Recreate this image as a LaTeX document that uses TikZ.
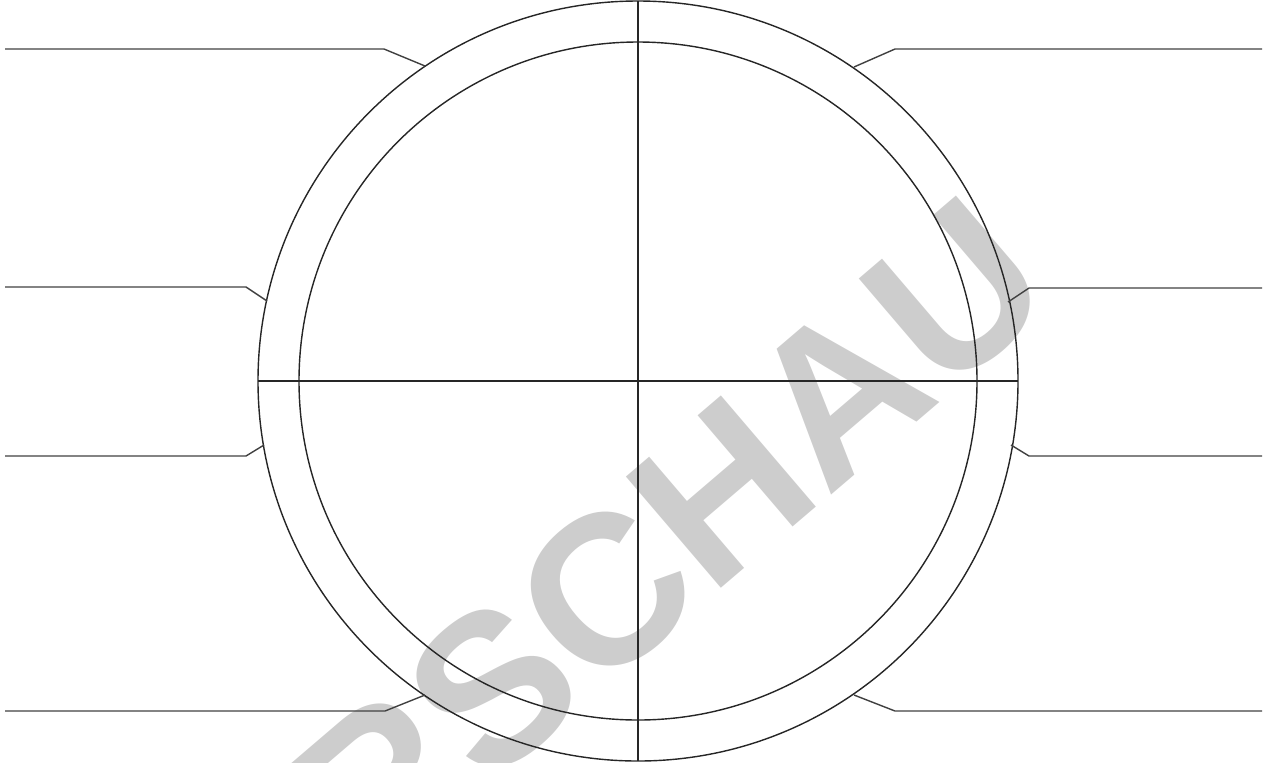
\documentclass[tikz,border=0pt]{standalone}
\usepackage{fontspec}
\newfontfamily\markfont{Liberation Sans}
\usetikzlibrary{positioning}
\definecolor{markGray}{HTML}{CDCDCD}

\begin{document}
\begin{tikzpicture}[
    x=0.02cm, y=-0.02cm,
    rim/.style={draw=black!85, line width=0.8pt},
    leader/.style={draw=black!75, line width=0.8pt},
    stamp/.style={text=markGray, font=\markfont\bfseries\fontsize{121}{126}\selectfont,
        inner sep=0pt, rotate=40.5}
]
  \useasboundingbox (0,0) rectangle (1266,762);
  \clip (0,0) rectangle (1266,762);

  % Watermark behind everything
  \node[stamp] (mark) at (551,638) {VORSCHAU};

  % Centre and rim points
  \coordinate (c) at (638,381);
  \coordinate (top) at (638,1);
  \coordinate (bottom) at (638,761);
  \coordinate (west) at (258,381);
  \coordinate (east) at (1018,381);

  % Circles and cross
  \draw[rim] (c) circle[radius=380];
  \draw[rim] (c) circle[radius=339];
  \draw[rim] (top) -- (bottom);
  \draw[rim] (west) -- (east);

  % Leader lines, left side
  \coordinate (l1) at (425,66);   \coordinate (l1k) at (384,49);  \coordinate (l1e) at (5,49);
  \coordinate (l2) at (267,301);  \coordinate (l2k) at (246,287); \coordinate (l2e) at (5,287);
  \coordinate (l3) at (264,445);  \coordinate (l3k) at (246,456); \coordinate (l3e) at (5,456);
  \coordinate (l4) at (425,695);  \coordinate (l4k) at (385,711); \coordinate (l4e) at (5,711);
  \foreach \i in {1,...,4}
    \draw[leader] (l\i) -- (l\i k) -- (l\i e);

  % Leader lines, right side
  \coordinate (r1) at (854,67);   \coordinate (r1k) at (895,49);   \coordinate (r1e) at (1262,49);
  \coordinate (r2) at (1008,302); \coordinate (r2k) at (1029,288); \coordinate (r2e) at (1262,288);
  \coordinate (r3) at (1011,445); \coordinate (r3k) at (1029,456); \coordinate (r3e) at (1262,456);
  \coordinate (r4) at (854,695);  \coordinate (r4k) at (895,711);  \coordinate (r4e) at (1262,711);
  \foreach \i in {1,...,4}
    \draw[leader] (r\i) -- (r\i k) -- (r\i e);

\end{tikzpicture}
\end{document}
